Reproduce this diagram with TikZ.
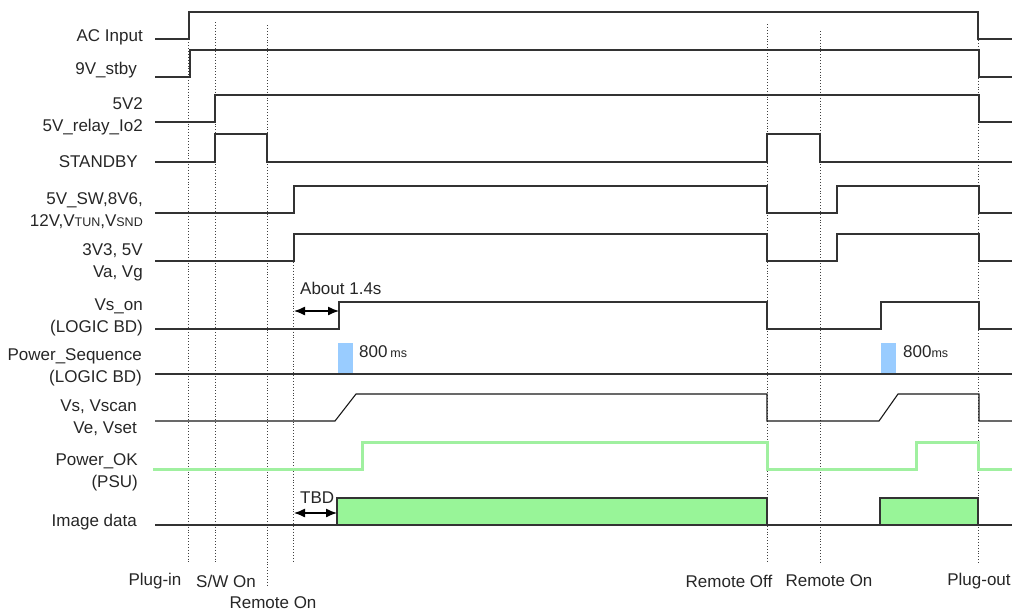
\documentclass[tikz,border=0pt]{standalone}
\usepackage{fontspec}
\setmainfont{Liberation Sans}
\usetikzlibrary{arrows.meta}

\definecolor{okgreen}{RGB}{160,240,160}
\definecolor{datagreen}{RGB}{152,245,152}
\definecolor{seqblue}{RGB}{153,204,255}
\newcommand{\smc}[1]{{\fontsize{12.5}{12.5}\selectfont #1}}

\begin{document}
\begin{tikzpicture}[x=1pt, y=-1pt]
  \tikzset{
    sig/.style={line width=1.4pt, black!80},
    okline/.style={line width=3pt, okgreen},
    guide/.style={dotted, line width=0.9pt, black!75},
    lbl/.style={anchor=east, align=right, font=\fontsize{17}{22}\selectfont, text=black!85, inner sep=0pt},
    note/.style={font=\fontsize{17}{20}\selectfont, text=black!85, inner sep=0pt},
    dimarrow/.style={{Latex[length=11pt,width=9pt]}-{Latex[length=11pt,width=9pt]}, line width=1.3pt, black}
  }
  \useasboundingbox (0,0) rectangle (1012,613);

  % event guides
  \foreach \gx/\gt/\gb in {188/22/563, 215/22/563, 267/25/587, 293/262/563, 767/24/563, 820/31/563, 978/14/563}
    \draw[guide] (\gx,\gt) -- (\gx,\gb);

  % signal names
  \node[lbl] (acin) at (143,37) {AC Input};
  \node[lbl] (stby) at (137,70) {9V\_stby};
  \node[lbl] (relay) at (143,116) {5V2\\5V\_relay\_Io2};
  \node[lbl] (standby) at (138,162) {STANDBY};
  \node[lbl] (sw) at (143,211) {5V\_SW,8V6,\\12V,V\smc{TUN},V\smc{SND}};
  \node[lbl] (v33) at (143,262) {3V3, 5V\\Va, Vg\hspace{6pt}};
  \node[lbl] (vson) at (143,317) {Vs\_on\\(LOGIC BD)};
  \node[lbl] (pseq) at (142,367) {Power\_Sequence\hspace{-2pt}\\(LOGIC BD)};
  \node[lbl] (vs) at (137,418) {Vs, Vscan\\Ve, Vset};
  \node[lbl] (pok) at (138,472) {Power\_OK\\(PSU)};
  \node[lbl] (img) at (137,522) {Image data};

  % AC Input
  \draw[sig] (155,39) -- (189,39) -- (189,12) -- (978,12) -- (978,39) -- (1012,39);
  % 9V_stby
  \draw[sig] (155,77) -- (190,77) -- (190,50) -- (979,50) -- (979,77) -- (1012,77);
  % 5V2
  \draw[sig] (155,122) -- (215,122) -- (215,95) -- (979,95) -- (979,122) -- (1012,122);
  % STANDBY
  \draw[sig] (155,162) -- (215,162) -- (215,134) -- (267,134) -- (267,162) -- (767,162)
    -- (767,134) -- (820,134) -- (820,162) -- (1012,162);
  % 5V_SW
  \draw[sig] (155,213) -- (294,213) -- (294,186) -- (767,186) -- (767,213) -- (837,213)
    -- (837,186) -- (979,186) -- (979,213) -- (1012,213);
  % 3V3
  \draw[sig] (155,261) -- (294,261) -- (294,234) -- (767,234) -- (767,261) -- (837,261)
    -- (837,234) -- (979,234) -- (979,261) -- (1012,261);
  % Vs_on
  \draw[sig] (155,329) -- (339,329) -- (339,302) -- (767,302) -- (767,329) -- (881,329)
    -- (881,302) -- (979,302) -- (979,329) -- (1012,329);
  % Power_Sequence
  \fill[seqblue] (338,343) rectangle (353,374);
  \fill[seqblue] (881,343) rectangle (896,374);
  \draw[sig] (155,374) -- (1012,374);
  % Vs, Vscan
  \draw[sig, line width=1.1pt, black!90] (155,421) -- (335,421) -- (356,394) -- (767,394) -- (767,421) -- (879,421)
    -- (898,394) -- (979,394) -- (979,421) -- (1012,421);
  % Power_OK
  \draw[okline] (153,469) -- (362,469) -- (362,442) -- (767,442) -- (767,469) -- (916,469)
    -- (916,442) -- (978,442) -- (978,469) -- (1012,469);
  % Image data
  \draw[sig] (155,525) -- (1012,525);
  \draw[sig, fill=datagreen] (337,525) rectangle (767,498);
  \draw[sig, fill=datagreen] (880,525) rectangle (978,498);

  % delays
  \coordinate (abL) at (294,311); \coordinate (abR) at (339,311);
  \draw[dimarrow] (abL) -- (abR);
  \node[note, anchor=west] (about) at (300,288) {About 1.4s};
  \coordinate (tbdL) at (294,513); \coordinate (tbdR) at (337,513);
  \draw[dimarrow] (tbdL) -- (tbdR);
  \node[note, anchor=west] (tbd) at (300,498) {TBD};
  \node[note, anchor=west] (ms1) at (359,352) {800\,\smc{ms}};
  \node[note, anchor=west] (ms2) at (903,352) {800\smc{ms}};

  % events
  \node[note] (plugin) at (155,581) {Plug-in};
  \node[note] (swon) at (226,581) {S/W On};
  \node[note] (remon1) at (273,603) {Remote On};
  \node[note] (remoff) at (729,581) {Remote Off};
  \node[note] (remon2) at (829,581) {Remote On};
  \node[note] (plugout) at (979,581) {Plug-out};
\end{tikzpicture}
\end{document}
